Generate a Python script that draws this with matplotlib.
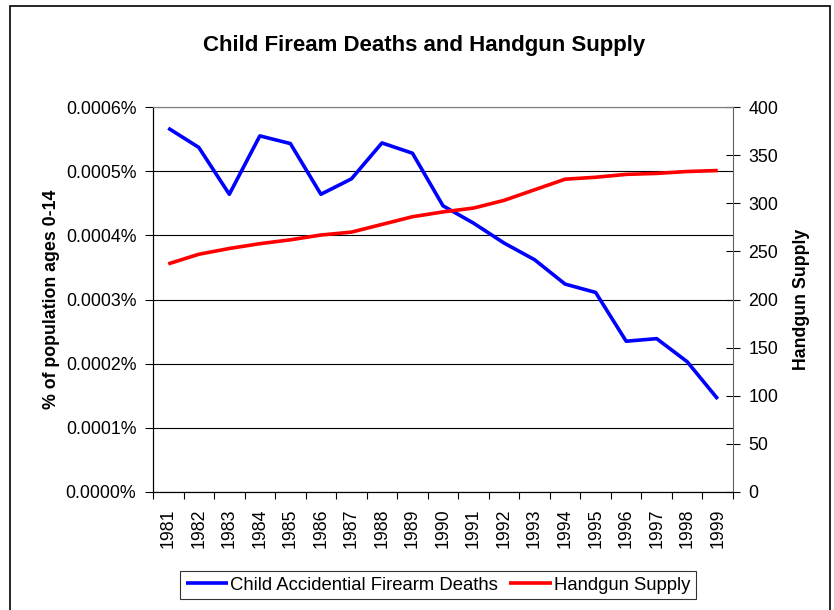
import matplotlib.pyplot as plt
from matplotlib.patches import Rectangle
from matplotlib.ticker import FuncFormatter, MultipleLocator

plt.rcParams["font.family"] = ["Liberation Sans", "DejaVu Sans"]

# Data
years = [str(y) for y in range(1981, 2000)]
deaths_pct = [0.000567, 0.000537, 0.000464, 0.000555, 0.000543, 0.000464,
              0.000488, 0.000544, 0.000528, 0.000446, 0.000419, 0.000388,
              0.000362, 0.000324, 0.000311, 0.000235, 0.000239, 0.000203,
              0.000145]
handgun_supply = [237, 247, 253, 258, 262, 267, 270, 278, 286, 291, 295, 303,
                  314, 325, 327, 330, 331, 333, 334]

fig = plt.figure(figsize=(8.34, 6.10), dpi=100)
ax = fig.add_axes([153 / 834, 1 - 492 / 610, 580 / 834, 385 / 610])
ax2 = ax.twinx()

x = range(len(years))
l1, = ax.plot(x, deaths_pct, color="#0000FF", lw=2.6,
              label="Child Accidential Firearm Deaths", solid_capstyle="butt")
l2, = ax2.plot(x, handgun_supply, color="#FF0000", lw=2.6,
               label="Handgun Supply", solid_capstyle="butt")

ax.set_xlim(-0.5, len(years) - 0.5)
ax.set_ylim(0, 0.0006)
ax2.set_ylim(0, 400)

ax.yaxis.set_major_locator(MultipleLocator(0.0001))
ax.yaxis.set_major_formatter(FuncFormatter(lambda v, p: f"{v:.4f}%"))
ax2.yaxis.set_major_locator(MultipleLocator(50))

ax.set_xticks([i for i in x])
ax.set_xticklabels(years, rotation=90, fontsize=12.8)
ax.set_xticks([i - 0.5 for i in range(len(years) + 1)], minor=True)
ax.tick_params(axis="x", which="major", length=0, pad=12)
ax.tick_params(axis="x", which="minor", length=5, width=0.8, direction="out")
ax.tick_params(axis="y", labelsize=12.8, length=6, width=0.8, direction="out",
               pad=6)
ax2.tick_params(axis="y", labelsize=12.8, length=10, width=0.8,
                direction="inout", pad=6)

ax.grid(axis="y", color="black", lw=0.8)
ax.set_axisbelow(True)

ax.spines["top"].set_color("#808080")
ax2.spines["top"].set_color("#808080")
ax2.spines["right"].set_color("#606060")
ax.spines["right"].set_visible(False)

ax.set_ylabel("% of population ages 0-14", fontsize=12.8, fontweight="bold",
              labelpad=4)
ax2.set_ylabel("Handgun Supply", fontsize=12.8, fontweight="bold", labelpad=11)

fig.text(0.508, 1 - 46 / 610, "Child Fiream Deaths and Handgun Supply",
         ha="center", va="center", fontsize=16, fontweight="bold")

leg = fig.legend(handles=[l1, l2], loc="center", ncol=2,
                 bbox_to_anchor=(438 / 834, 1 - 585 / 610), fontsize=13.3,
                 frameon=True, fancybox=False, handlelength=2.3,
                 handletextpad=0.1, columnspacing=0.6, borderpad=0.3)
leg.get_frame().set_edgecolor("black")
leg.get_frame().set_linewidth(0.8)

fig.patches.append(Rectangle((10 / 834, -0.1), 820 / 834, 1.1 - 6 / 610,
                             transform=fig.transFigure, fill=False,
                             edgecolor="black", lw=1.2))

fig.savefig("out.png", dpi=100)
